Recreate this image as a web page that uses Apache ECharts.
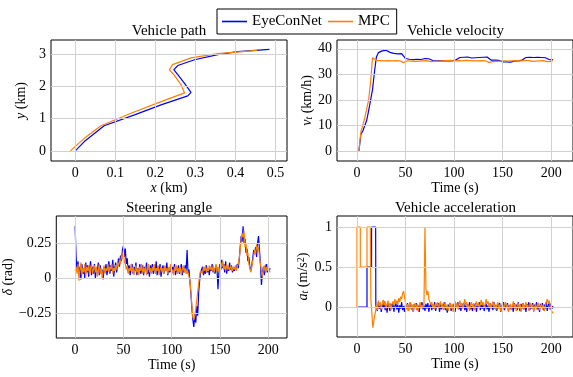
<!DOCTYPE html>
<html><head><meta charset="utf-8">
<script src="https://cdn.jsdelivr.net/npm/echarts@6/dist/echarts.min.js"></script>
<style>html,body{margin:0;padding:0;background:#fff}#c{width:573px;height:377px}</style>
</head><body><div id="c"></div>
<script>
// ---------------- data ----------------
const seriesNames = ['EyeConNet', 'MPC'];

// Vehicle path (km)
const pathBlueX = [0, 0.0225, 0.072, 0.148, 0.214, 0.281, 0.289, 0.272, 0.256, 0.246, 0.256, 0.298, 0.356, 0.406, 0.485];
const pathBlueY = [0, 0.29, 0.78, 1.12, 1.43, 1.71, 1.82, 2.11, 2.37, 2.52, 2.65, 2.83, 2.99, 3.08, 3.15];
const pathMpcX = [-0.0125, 0.0225, 0.064, 0.139, 0.206, 0.273, 0.277, 0.264, 0.248, 0.235, 0.243, 0.289, 0.356, 0.454];
const pathMpcY = [0, 0.39, 0.78, 1.17, 1.49, 1.80, 1.85, 2.06, 2.34, 2.52, 2.68, 2.89, 3.02, 3.12];

// Vehicle velocity (km/h), sampled every 2 s from t = 2 s
const velStart = 2, velStep = 2;
const velBlue = [
  0,6.5,7.8,8.5,12,15.8,16.5,24,31,36.8,
  38.5,39,39.2,39.6,39.4,39,38.6,38.4,38.2,38.3,
  38,37.8,38.1,37.6,36.2,35.8,35.9,35.6,35.8,35.7,
  35.9,35.6,35.8,36.1,36.2,35.9,36.1,35.6,35.4,35.5,
  35.3,35.6,35.4,35.5,35.3,35.2,35.4,35.6,35.3,35.5,
  35.7,36.2,36.6,36.9,36.7,36.5,36.8,36.6,36.4,36.2,
  36.5,36.3,36.6,36.4,36.7,36.5,36.8,36.4,35.6,35.4,
  35.6,35.3,35.5,35.2,34.9,34.7,34.9,35.1,34.8,35,
  35.2,35.1,35.3,35.4,35.6,36.2,36.6,36.8,36.7,36.9,
  36.6,36.8,36.7,36.9,36.6,36.8,36.5,36.2,35.8,35.6,
  35.7];
const velMpc = [
  0,7.5,10,13,16.5,20,27,36.5,36,35.5,
  35.2,35.4,35.1,35.3,35.2,35.4,35,35.3,35.1,35.4,
  35.2,35.3,35,34.6,34.8,35.3,35.4,35.2,35.5,35.1,
  35.4,35.2,35.5,35.3,35.1,35.4,35.2,35,35.3,35.1,
  35.4,35.2,35,35.3,35.1,35.4,35.2,35.5,35.1,35.3,
  35.2,35.4,35.1,35.3,35.2,35.5,35.2,35.4,35.1,35.3,
  35,35.3,35.2,35.4,35.1,35.3,35,34.7,35.2,35,
  35.3,35.1,35.4,35.2,35,35.3,35.1,35.2,35,35.3,
  35.1,35.4,35.2,35.3,35.1,35.4,35.2,35.5,35.3,35.1,
  35.4,35.2,35,35.3,35.1,35.4,35.2,35,35.3,35.1,
  35.4];

// Steering angle (rad), every 1 s from t = 0
const steerStart = 0, steerStep = 1;
const steerBlue = [
  0.37,0.15,0.05,0.12,0.02,0.08,-0.01,0.1,0.03,0.07,
  0.0,0.11,0.04,0.09,0.01,0.06,0.12,0.02,0.08,0.03,
  0.1,0.0,0.07,0.05,0.11,0.02,0.09,0.03,0.06,-0.01,
  0.08,0.04,0.1,0.02,0.07,0.12,0.03,0.09,0.05,0.13,
  0.01,0.07,0.11,0.04,0.09,0.14,0.08,0.16,0.12,0.2,
  0.23,0.15,0.21,0.1,0.14,0.04,0.09,0.02,0.07,0.1,
  0.03,0.08,0.05,0.11,0.02,0.07,0.04,0.1,0.03,0.06,
  0.09,0.02,0.08,0.05,0.11,0.03,0.07,0.01,0.09,0.04,
  0.1,0.03,0.07,0.05,0.12,0.02,0.08,0.04,0.1,0.01,
  0.06,0.09,0.03,0.08,0.05,0.11,0.02,0.07,0.04,0.09,
  0.03,0.08,0.05,0.1,0.02,0.07,0.04,0.09,0.03,0.06,
  0.1,0.02,0.07,0.04,0.09,0.05,0.2,0.03,0.06,-0.03,
  -0.12,-0.22,-0.3,-0.35,-0.26,-0.32,-0.2,-0.27,-0.1,-0.02,
  0.04,0.03,0.08,0.02,0.06,0.03,0.09,0.04,0.07,0.02,
  0.08,0.05,0.1,0.04,0.07,0.03,0.09,0.06,-0.08,0.05,
  0.1,0.06,0.13,0.07,0.1,0.04,0.12,0.03,0.08,0.05,
  0.11,0.06,0.09,0.04,0.07,0.05,0.08,0.06,0.1,0.07,
  0.13,0.22,0.3,0.26,0.37,0.25,0.28,0.18,0.21,0.12,
  0.15,0.08,0.05,0.09,0.14,0.2,0.17,0.22,0.15,0.25,
  0.3,0.2,0.1,-0.05,0.03,0.08,0.02,0.06,0.1,0.04,
  0.08,0.05,0.07];
const steerMpc = [
  0.05,0.08,0.03,0.1,-0.02,0.06,0.11,0.02,0.07,0.04,
  0.1,0.01,0.08,0.05,0.09,0.02,0.07,0.1,0.03,0.06,
  0.09,0.04,0.08,0.01,0.06,0.1,0.03,0.07,0.0,0.05,
  0.09,0.03,0.07,0.05,0.1,0.04,0.08,0.06,0.1,0.03,
  0.07,0.05,0.09,0.06,0.11,0.08,0.13,0.1,0.16,0.14,
  0.2,0.12,0.1,0.06,0.09,0.03,0.07,0.05,0.1,0.04,
  0.08,0.02,0.06,0.09,0.04,0.07,0.02,0.08,0.05,0.1,
  0.03,0.07,0.04,0.09,0.02,0.06,0.1,0.04,0.07,0.03,
  0.08,0.05,0.1,0.03,0.07,0.05,0.09,0.02,0.06,0.08,
  0.04,0.07,0.03,0.09,0.05,0.07,0.03,0.08,0.05,0.1,
  0.04,0.06,0.02,0.08,0.05,0.09,0.03,0.07,0.04,0.08,
  0.02,0.06,0.09,0.04,0.07,0.03,0.06,0.04,0.05,-0.02,
  -0.1,-0.2,-0.28,-0.3,-0.27,-0.22,-0.16,-0.1,-0.04,0.02,
  0.05,0.06,0.03,0.08,0.05,0.09,0.04,0.07,0.05,0.09,
  0.06,0.08,0.05,0.09,0.04,0.07,0.1,0.05,0.08,0.04,
  0.07,0.11,0.08,0.12,0.06,0.09,0.05,0.1,0.06,0.08,
  0.05,0.09,0.07,0.05,0.08,0.06,0.09,0.05,0.08,0.1,
  0.14,0.2,0.28,0.32,0.29,0.34,0.22,0.25,0.16,0.18,
  0.1,0.07,0.04,0.08,0.12,0.16,0.2,0.17,0.24,0.2,
  0.22,0.15,0.1,0.05,0.01,0.06,0.09,0.04,0.08,0.05,
  0.1,0.06,0.04];

// Vehicle acceleration (m/s^2): step-shaped start, then 1 s samples
const accBlueHeadT = [0, 10.3, 10.3, 15, 15, 19.2, 19.4];
const accBlueHeadV = [0, 0, 0.5, 0.5, 1, 1, 0.02];
const accBlueTailStart = 20, accStep = 1;
const accBlueTail = [
  0.02,-0.05,0.06,-0.02,0.04,-0.06,0.03,-0.01,0.07,-0.04,
  0.02,-0.07,0.05,0.0,-0.05,0.04,-0.02,0.06,-0.06,0.01,
  0.05,-0.03,0.03,-0.07,0.02,-0.02,0.06,-0.04,0.01,-0.06,
  0.03,-0.02,0.05,-0.05,0.02,0.06,-0.03,0.01,-0.06,0.04,
  -0.01,0.05,-0.04,0.02,-0.06,0.03,0.0,0.06,-0.03,0.02,
  -0.05,0.04,-0.02,0.05,-0.06,0.01,0.04,-0.04,0.03,-0.02,
  0.06,-0.05,0.02,-0.01,0.05,-0.06,0.03,-0.03,0.04,-0.02,
  0.06,-0.04,0.01,-0.07,0.03,0.0,0.05,-0.05,0.02,-0.02,
  0.04,-0.06,0.03,0.0,0.06,-0.03,0.02,-0.05,0.04,-0.01,
  0.05,-0.04,0.02,-0.06,0.03,0.0,0.06,-0.03,0.01,-0.05,
  0.04,-0.02,0.05,-0.06,0.02,-0.01,0.06,-0.04,0.03,-0.02,
  0.05,-0.05,0.01,0.04,-0.03,0.02,-0.06,0.05,-0.01,0.03,
  -0.04,0.06,-0.02,0.02,-0.05,0.04,0.0,0.05,-0.06,0.02,
  -0.02,0.06,-0.04,0.03,-0.01,0.05,-0.05,0.02,0.04,-0.03,
  0.01,-0.06,0.05,-0.02,0.03,-0.04,0.06,0.0,-0.05,0.04,
  -0.02,0.05,-0.03,0.02,-0.06,0.04,-0.01,0.06,-0.04,0.02,
  -0.02,0.05,-0.05,0.03,0.0,0.06,-0.03,0.02,-0.06,0.04,
  -0.01,0.05,-0.04,0.03,-0.02,0.06,-0.05,0.02,0.07,-0.03,
  0.04,-0.02,0.01];
const accMpcHeadT = [0, 0, 3.4, 3.4, 10.3, 10.3, 13.7, 14.3, 16.3];
const accMpcHeadV = [0, 1, 1, 0.5, 0.5, 1, 1, 0.1, -0.26];
const accMpcTailStart = 17;
const accMpcTail = [
  -0.2,-0.12,-0.06,0.03,-0.04,0.08,0.01,0.06,-0.03,0.05,
  0.09,0.02,0.07,-0.02,0.04,0.08,0.0,0.05,-0.04,0.03,
  0.07,0.02,0.1,0.04,0.08,0.03,0.11,0.06,0.13,0.1,
  0.17,0.2,0.12,0.05,-0.03,0.04,-0.05,0.02,0.06,-0.02,
  0.03,-0.06,0.01,0.05,-0.03,0.04,-0.05,0.02,0.06,-0.02,
  0.03,0.0,0.04,1.0,0.22,0.15,0.2,0.1,0.08,0.03,
  0.06,0.0,0.04,-0.03,0.05,0.01,0.06,-0.02,0.03,0.07,
  -0.01,0.04,-0.04,0.02,0.06,-0.03,0.03,-0.05,0.01,0.05,
  -0.02,0.04,-0.06,0.02,0.07,0.0,0.05,-0.03,0.03,0.08,
  0.01,0.05,-0.02,0.04,0.1,0.02,0.06,-0.03,0.03,-0.05,
  0.02,0.06,0.0,0.04,-0.04,0.02,0.07,0.01,0.05,-0.02,
  0.04,0.09,0.02,0.06,-0.01,0.03,0.1,0.04,0.07,0.0,
  0.05,-0.03,0.03,0.07,0.0,0.04,-0.04,0.02,0.06,-0.02,
  0.03,-0.05,0.01,0.05,-0.03,0.02,0.06,-0.01,0.03,-0.06,
  0.0,0.04,-0.04,0.02,0.07,0.0,0.04,-0.05,0.01,0.05,
  -0.02,0.03,-0.06,0.0,0.05,-0.03,0.02,0.06,-0.01,0.03,
  -0.05,0.01,0.05,-0.02,0.03,-0.06,0.0,0.04,-0.03,0.02,
  0.05,-0.04,0.01,0.04,-0.02,0.03,-0.05,0.01,0.06,0.1,
  0.04,0.08,0.02,-0.03,-0.06,-0.08];

// tick labels
const pathXTicks = [0, 0.1, 0.2, 0.3, 0.4, 0.5];
const pathYTicks = [0, 1, 2, 3];
const timeTicks = [0, 50, 100, 150, 200];
const velTicks = [0, 10, 20, 30, 40];
const steerTicks = [-0.25, 0, 0.25];
const accTicks = [0, 0.5, 1];

const titles = ['Vehicle path', 'Vehicle velocity', 'Steering angle', 'Vehicle acceleration'];

// ---------------- chart ----------------
const FONT = '"Liberation Serif", "DejaVu Serif", serif';
const BLUE = '#0000ff', ORANGE = '#ff8000', GRIDC = '#d0d0d0';
const zip = (xs, ys) => xs.map((x, i) => [x, ys[i]]);
const seq = (start, step, vals) => vals.map((v, i) => [+(start + i * step).toFixed(3), v]);
const fmt = v => (v < 0 ? '\u2212' + Math.abs(v) : String(v));

const grids = [
  { left: 51, top: 40, width: 236, height: 121 },
  { left: 337, top: 40, width: 237, height: 121 },
  { left: 51, top: 216, width: 236, height: 122 },
  { left: 337, top: 216, width: 237, height: 121 }
];

const rich = {
  i: { fontFamily: FONT, fontSize: 14, fontStyle: 'italic', color: '#000', lineHeight: 14 },
  n: { fontFamily: FONT, fontSize: 14, color: '#000', lineHeight: 14 },
  s: { fontFamily: FONT, fontSize: 10, fontStyle: 'italic', color: '#000', verticalAlign: 'bottom', lineHeight: 4 },
  p: { fontFamily: FONT, fontSize: 10, color: '#000', verticalAlign: 'top', lineHeight: 4 }
};
const nameStyle = { fontFamily: FONT, fontSize: 14, color: '#000', rich };

const xDefs = [
  { min: -0.0608, max: 0.529, ticks: pathXTicks, name: '{i|x}{n| (km)}', gap: 18 },
  { min: -20.6, max: 222.5, ticks: timeTicks, name: '{n|Time (s)}', gap: 18 },
  { min: -19.5, max: 219.5, ticks: timeTicks, name: '{n|Time (s)}', gap: 17 },
  { min: -20.6, max: 222.5, ticks: timeTicks, name: '{n|Time (s)}', gap: 17 }
];
const yDefs = [
  { min: -0.313, max: 3.443, ticks: pathYTicks, name: '{i|y}{n| (km)}', gap: 23 },
  { min: -3.95, max: 43.45, ticks: velTicks, name: '{i|v}{s|t}{n| (km/h)}', gap: 20 },
  { min: -0.429, max: 0.443, ticks: steerTicks, name: '{i|\u03b4}{n| (rad)}', gap: 29 },
  { min: -0.375, max: 1.138, ticks: accTicks, name: '{i|a}{s|t}{n| (m/s}{p|2}{n|)}', gap: 22 }
];

const tickStyle = ticks => ({ show: true, inside: true, length: 3, customValues: ticks, lineStyle: { color: '#444', width: 1 } });
const labelStyle = ticks => ({ customValues: ticks, formatter: fmt, color: '#000', fontFamily: FONT, fontSize: 14 });

const xAxis = [], yAxis = [];
xDefs.forEach((d, g) => {
  xAxis.push({
    type: 'value', gridIndex: g, min: d.min, max: d.max, position: 'bottom',
    axisLine: { show: false }, axisTick: tickStyle(d.ticks),
    axisLabel: Object.assign(labelStyle(d.ticks), { margin: 5 }),
    splitLine: { show: false },
    name: d.name, nameLocation: 'middle', nameGap: d.gap, nameTextStyle: nameStyle
  });
});
yDefs.forEach((d, g) => {
  yAxis.push({
    type: 'value', gridIndex: g, min: d.min, max: d.max, position: 'left',
    axisLine: { show: false }, axisTick: tickStyle(d.ticks),
    axisLabel: Object.assign(labelStyle(d.ticks), { margin: 5 }),
    splitLine: { show: false },
    name: d.name, nameLocation: 'middle', nameGap: d.gap, nameRotate: 90, nameTextStyle: nameStyle
  });
});
// mirrored tick marks on top / right
xDefs.forEach((d, g) => {
  xAxis.push({ type: 'value', gridIndex: g, min: d.min, max: d.max, position: 'top',
    axisLine: { show: false }, axisTick: tickStyle(d.ticks), axisLabel: { show: false }, splitLine: { show: false } });
});
yDefs.forEach((d, g) => {
  yAxis.push({ type: 'value', gridIndex: g, min: d.min, max: d.max, position: 'right',
    axisLine: { show: false }, axisTick: tickStyle(d.ticks), axisLabel: { show: false }, splitLine: { show: false } });
});

function line(name, color, g, data) {
  return { type: 'line', name, xAxisIndex: g, yAxisIndex: g, data, symbol: 'none', showSymbol: false,
    color, lineStyle: { color, width: 1.2 }, animation: false, silent: true, z: 3 };
}
// grid lines at the tick values, drawn through the axes as mark lines
function gridLines(g) {
  const d = [];
  xDefs[g].ticks.forEach(v => d.push({ xAxis: v }));
  yDefs[g].ticks.forEach(v => d.push({ yAxis: v }));
  return { type: 'line', name: 'gridlines' + g, xAxisIndex: g, yAxisIndex: g, data: [], z: 1, silent: true,
    markLine: { silent: true, symbol: ['none', 'none'], label: { show: false }, animation: false,
      lineStyle: { color: GRIDC, width: 1, type: 'solid' }, emphasis: { disabled: true }, data: d } };
}

const series = [
  gridLines(0), gridLines(1), gridLines(2), gridLines(3),
  line(seriesNames[0], BLUE, 0, zip(pathBlueX, pathBlueY)),
  line(seriesNames[1], ORANGE, 0, zip(pathMpcX, pathMpcY)),
  line(seriesNames[0], BLUE, 1, seq(velStart, velStep, velBlue)),
  line(seriesNames[1], ORANGE, 1, seq(velStart, velStep, velMpc)),
  line(seriesNames[0], BLUE, 2, seq(steerStart, steerStep, steerBlue)),
  line(seriesNames[1], ORANGE, 2, seq(steerStart, steerStep, steerMpc)),
  line(seriesNames[0], BLUE, 3, zip(accBlueHeadT, accBlueHeadV).concat(seq(accBlueTailStart, accStep, accBlueTail))),
  line(seriesNames[1], ORANGE, 3, zip(accMpcHeadT, accMpcHeadV).concat(seq(accMpcTailStart, accStep, accMpcTail)))
];

const titleY = [24, 24, 201, 201];
const graphic = titles.map((t, g) => ({
  type: 'text', x: grids[g].left + grids[g].width / 2, y: titleY[g], z: 10,
  style: { text: t, textAlign: 'center', textVerticalAlign: 'top', font: '15px ' + FONT, fill: '#000' }
}));

const chart = echarts.init(document.getElementById('c'), null, { renderer: 'canvas' });
chart.setOption({
  animation: false,
  backgroundColor: '#fff',
  grid: grids.map(g => Object.assign({ show: true, borderColor: '#000', borderWidth: 1, backgroundColor: 'transparent', containLabel: false }, g)),
  xAxis, yAxis, series, graphic,
  legend: {
    data: seriesNames.map((n, k) => ({ name: n, icon: 'rect', itemStyle: { color: k ? ORANGE : BLUE } })),
    left: 217, top: 9, orient: 'horizontal',
    itemWidth: 25, itemHeight: 1.6, itemGap: 6, padding: [5, 7, 5, 5],
    borderColor: '#000', borderWidth: 1, backgroundColor: '#fff', borderRadius: 0,
    textStyle: { fontFamily: FONT, fontSize: 15, color: '#000' }
  }
});
</script>
</body></html>
